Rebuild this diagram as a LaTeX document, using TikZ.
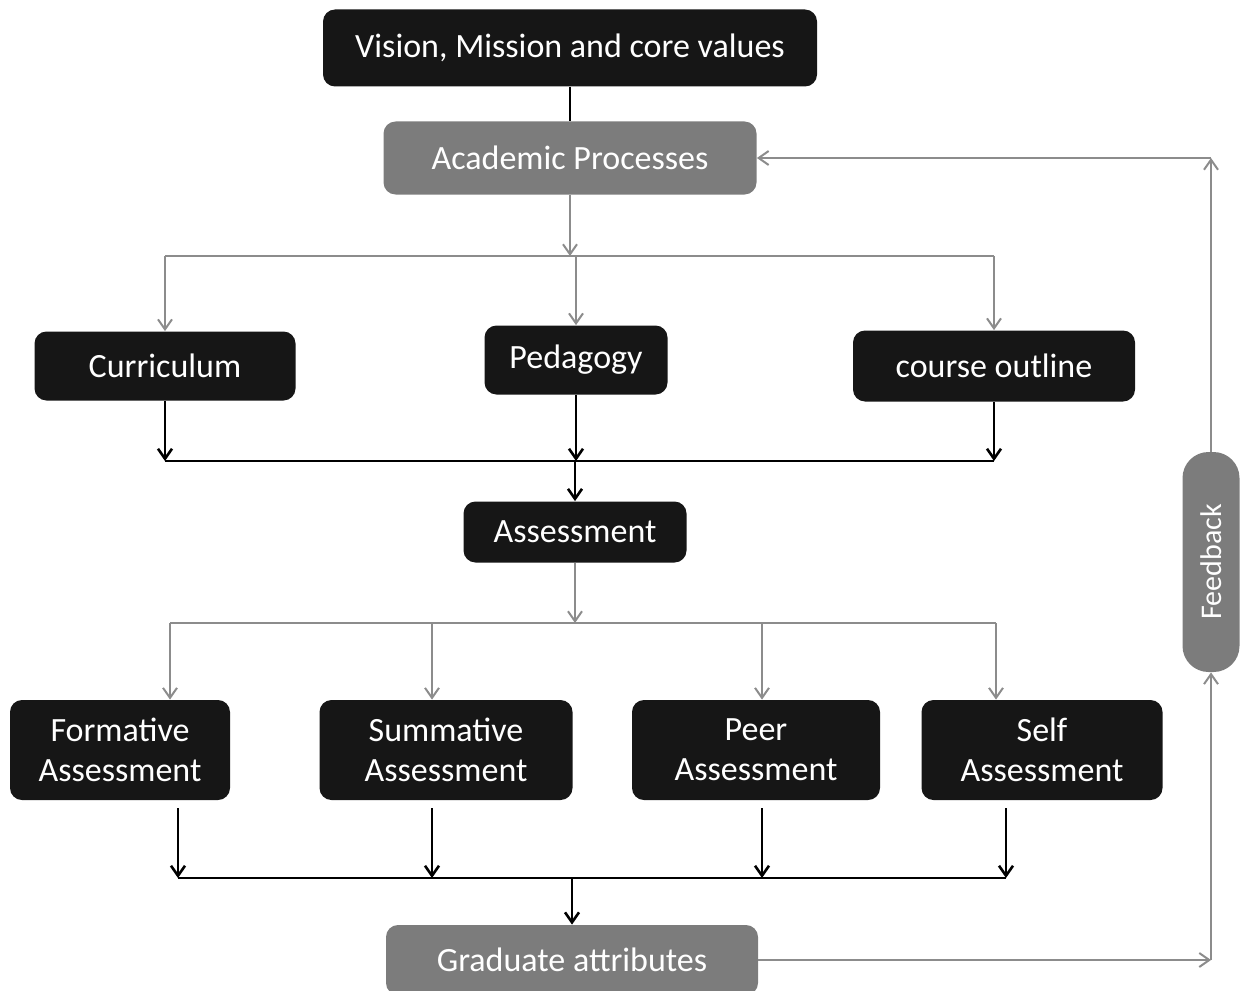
\documentclass[tikz,border=0pt]{standalone}
\usepackage{fontspec}
\setmainfont{Carlito}
\usepackage{xcolor}
\usetikzlibrary{arrows.meta,calc}

\definecolor{boxblack}{HTML}{161616}
\definecolor{boxgrey}{HTML}{7C7C7C}
\definecolor{linegrey}{HTML}{8C8C8C}

\begin{document}
\begin{tikzpicture}[x=0.5pt, y=-0.5pt, >={Straight Barb[length=5pt,width=7pt]},
    every node/.style={font=\fontsize{17}{20}\selectfont, align=center, text=white},
    darkbox/.style={fill=boxblack, rounded corners=6pt, inner sep=0pt},
    greybox/.style={fill=boxgrey, rounded corners=6pt, inner sep=0pt},
    garr/.style={->, draw=linegrey, line width=1pt},
    gline/.style={draw=linegrey, line width=1pt},
    barr/.style={->, draw=black, line width=1.3pt},
    bline/.style={draw=black, line width=1.3pt}]
  \useasboundingbox (0,0) rectangle (1241,990);

  % top of the chain
  \node[darkbox, minimum width=247pt, minimum height=38.5pt] (vis) at (570,48)
        {Vision, Mission and core values};
  \node[greybox, minimum width=186.5pt, minimum height=36.5pt] (acad) at (570,158)
        {Academic Processes};

  % first row
  \node[darkbox, minimum width=130.5pt, minimum height=34.5pt] (cur) at (165,366) {Curriculum};
  \node[darkbox, minimum width=91.5pt, minimum height=34.5pt] (ped) at (576,360) {Pedagogy};
  \node[darkbox, minimum width=141pt, minimum height=35.5pt] (crs) at (994,366) {course outline};

  \node[darkbox, minimum width=111.5pt, minimum height=30.5pt] (asmt) at (575,532) {Assessment};

  % second row
  \node[darkbox, minimum width=110pt, minimum height=50pt] (form) at (120,750)
        {Formative\\Assessment};
  \node[darkbox, minimum width=126.5pt, minimum height=50pt] (summ) at (446,750)
        {Summative\\Assessment};
  \node[darkbox, minimum width=124pt, minimum height=50pt] (peer) at (756,750)
        {Peer\\Assessment};
  \node[darkbox, minimum width=120.5pt, minimum height=50pt] (self) at (1042,750)
        {Self\\Assessment};

  \node[greybox, minimum width=186pt, minimum height=35pt] (grad) at (572,960)
        {Graduate attributes};
  \node[greybox, rotate=90, rounded corners=13pt, minimum width=110pt, minimum height=28.5pt,
        font=\fontsize{15}{18}\selectfont] (fb) at (1211,562) {Feedback};

  % connectors
  \draw[bline] (vis) -- (acad);

  \coordinate (fork1) at (573,256);
  \draw[garr] (acad) -- (acad |- fork1);
  \draw[gline] (fork1 -| cur) -- (fork1 -| crs);
  \foreach \n in {cur,ped,crs}
    \draw[garr] (fork1 -| \n) -- (\n);

  \coordinate (join1) at (573,461);
  \foreach \n in {cur,ped,crs}
    \draw[barr] (\n) -- (\n |- join1);
  \draw[bline] (join1 -| cur) -- (join1 -| crs);
  \draw[barr] (asmt |- join1) -- (asmt);

  \coordinate (fork2) at (573,623);
  \coordinate (join2) at (573,878);
  \draw[garr] (asmt) -- (asmt |- fork2);
  \foreach \n/\d/\e in {form/25/29, summ/-7/-7, peer/3/3, self/-23/-18} {
    \coordinate (t\n) at ([xshift=\d pt]\n.north);
    \coordinate (b\n) at ([xshift=\e pt, yshift=-4pt]\n.south);
    \draw[garr] (t\n |- fork2) -- (t\n);
    \draw[barr] (b\n) -- (b\n |- join2);
  }
  \draw[gline] (fork2 -| tform) -- (fork2 -| tself);
  \draw[bline] (join2 -| bform) -- (join2 -| bself);
  \draw[barr] (grad |- join2) -- (grad);

  % feedback loop
  \draw[garr] (grad) -- (grad -| fb);
  \draw[garr] (grad -| fb) -- (fb);
  \draw[garr] (fb) -- (fb |- acad);
  \draw[garr] (fb |- acad) -- (acad);
\end{tikzpicture}
\end{document}
